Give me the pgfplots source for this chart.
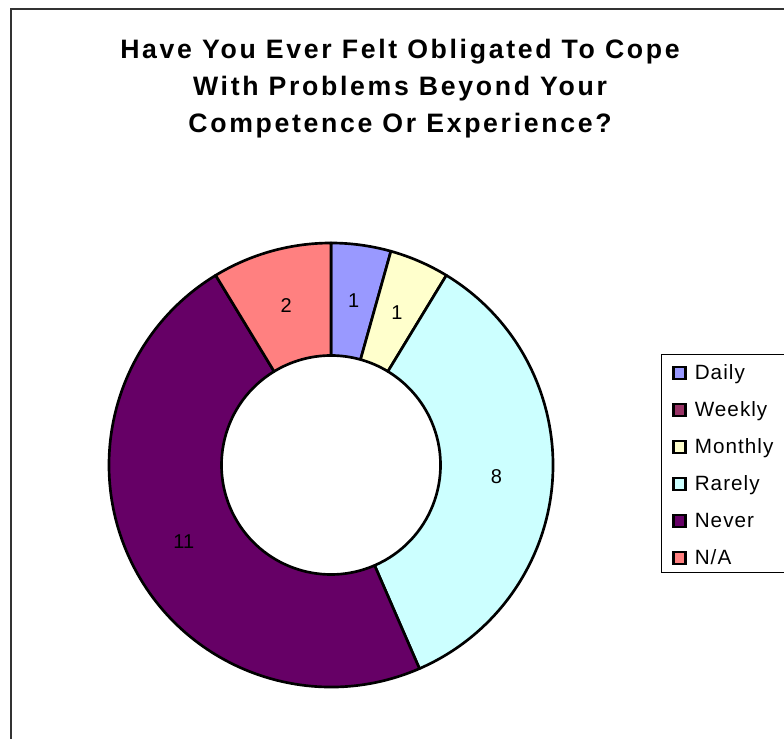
\documentclass[border=0pt]{standalone}
\usepackage{pgfplots}
\pgfplotsset{compat=1.18}
\usepackage{pgfplotstable}
\usepackage{fontspec}
\setmainfont{Liberation Sans}
\newfontfamily\titlefont[LetterSpace=10]{Liberation Sans}
\newfontfamily\legfont[LetterSpace=5]{Liberation Sans}
\newcommand\labfont{\fontsize{15}{18}\selectfont}

\definecolor{cDaily}{HTML}{9999FF}
\definecolor{cWeekly}{HTML}{993366}
\definecolor{cMonthly}{HTML}{FFFFCC}
\definecolor{cRarely}{HTML}{CCFFFF}
\definecolor{cNever}{HTML}{660066}
\definecolor{cNA}{HTML}{FF8080}

\pgfplotstableread{
label value color
Daily 1 cDaily
Weekly 0 cWeekly
Monthly 1 cMonthly
Rarely 8 cRarely
Never 11 cNever
N/A 2 cNA
}\datatable

% cumulative angles (clockwise from 12 o'clock)
\def\total{0}
\pgfplotsforeachungrouped \ri in {0,...,5}{%
  \pgfplotstablegetelem{\ri}{value}\of\datatable
  \pgfmathsetmacro\total{\total+\pgfplotsretval}%
}
\def\cum{0}
\pgfplotsforeachungrouped \ri in {0,...,5}{%
  \pgfplotstablegetelem{\ri}{value}\of\datatable
  \let\curval=\pgfplotsretval
  \expandafter\xdef\csname val\ri\endcsname{\curval}%
  \pgfmathsetmacro\aone{90-360*\cum/\total}%
  \pgfmathsetmacro\cum{\cum+\curval}%
  \pgfmathsetmacro\atwo{90-360*\cum/\total}%
  \pgfmathsetmacro\amid{(\aone+\atwo)/2}%
  \expandafter\xdef\csname aone\ri\endcsname{\aone}%
  \expandafter\xdef\csname atwo\ri\endcsname{\atwo}%
  \expandafter\xdef\csname amid\ri\endcsname{\amid}%
  \pgfplotstablegetelem{\ri}{color}\of\datatable
  \colorlet{wc\ri}{\pgfplotsretval}%
  \pgfplotstablegetelem{\ri}{label}\of\datatable
  \expandafter\xdef\csname lab\ri\endcsname{\pgfplotsretval}%
}

\begin{document}
\begin{tikzpicture}[x=0.75pt,y=0.75pt]
\useasboundingbox (0,0) rectangle (784,738);
% chart frame (cut off at right and bottom)
\draw[black!80, line width=1.5pt] (10.5,-7) -- (10.5,728.5) -- (795,728.5);
% title
\node[anchor=base, inner sep=0pt, font=\titlefont\bfseries\fontsize{20}{24}\selectfont] at (400,679) {Have You Ever Felt Obligated To Cope};
\node[anchor=base, inner sep=0pt, font=\titlefont\bfseries\fontsize{20}{24}\selectfont] at (400,642) {With Problems Beyond Your};
\node[anchor=base, inner sep=0pt, font=\titlefont\bfseries\fontsize{20}{24}\selectfont] at (400,605) {Competence Or Experience?};

\begin{axis}[
  at={(331,273)}, anchor=center,
  x=0.75pt, y=0.75pt,
  xmin=-222, xmax=222, ymin=-222, ymax=222,
  hide axis, clip=false,
  legend image code/.code={\draw[#1, draw=black, line width=1.9pt] (0pt,-4.5pt) rectangle (9pt,4.5pt);},
  legend cell align=left,
  legend style={at={(axis cs:330,111)}, anchor=north west, draw=none, fill=none,
    inner xsep=8.25pt, inner ysep=5.25pt, row sep=10.25pt, column sep=4pt,
    font=\legfont\fontsize{15.5}{18}\selectfont, cells={anchor=west}},
]
\pgfplotsinvokeforeach{0,...,5}{%
  \ifdim\csname val#1\endcsname pt>0pt\relax
  \filldraw[fill=wc#1, draw=black, line width=2pt, line join=round]
    (axis cs:{222*cos(\csname aone#1\endcsname)},{222*sin(\csname aone#1\endcsname)})
    arc[start angle=\csname aone#1\endcsname, end angle=\csname atwo#1\endcsname, radius=166.5pt]
    -- (axis cs:{109.5*cos(\csname atwo#1\endcsname)},{109.5*sin(\csname atwo#1\endcsname)})
    arc[start angle=\csname atwo#1\endcsname, end angle=\csname aone#1\endcsname, radius=82.125pt]
    -- cycle;
  \node[font=\labfont, inner sep=0pt] at (axis cs:{165.75*cos(\csname amid#1\endcsname)},{165.75*sin(\csname amid#1\endcsname)}) {\csname val#1\endcsname};
  \fi
}
\pgfplotsinvokeforeach{0,...,5}{%
  \addlegendimage{fill=wc#1, draw=black}
  \addlegendentry{\rule[-2pt]{0pt}{14pt}\csname lab#1\endcsname}
}
\end{axis}
% legend frame (cut off at right)
\draw[black, line width=0.75pt] (661,383.5) rectangle (800,165);
\end{tikzpicture}
\end{document}
